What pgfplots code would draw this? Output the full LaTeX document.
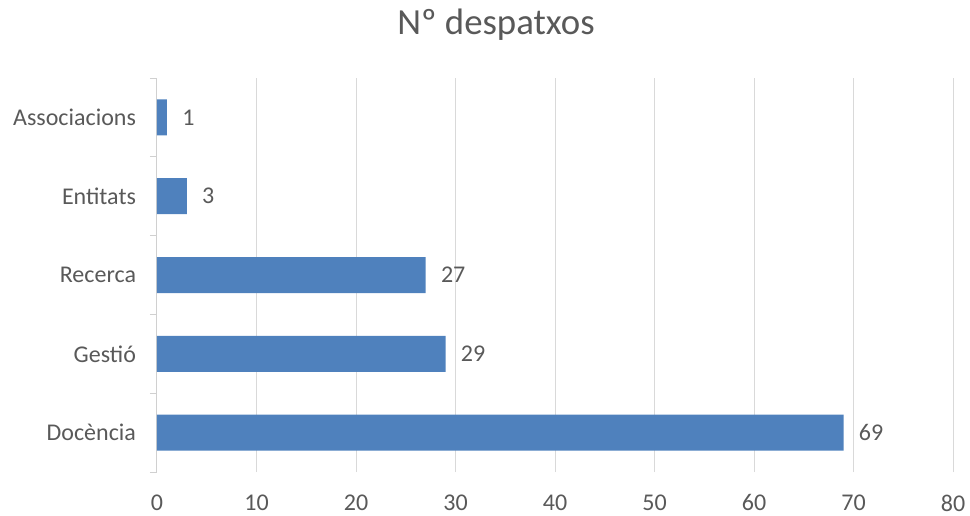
\documentclass[border=0pt]{standalone}
\usepackage{fontspec}
\setmainfont{Carlito}
\usepackage{pgfplots}
\pgfplotsset{compat=1.18}
\definecolor{barblue}{HTML}{4F81BD}
\definecolor{txt}{HTML}{595959}
\definecolor{gridc}{HTML}{D9D9D9}
\definecolor{axc}{HTML}{D0D0D0}
\begin{document}
\begin{tikzpicture}
\begin{axis}[
  scale only axis,
  width=597pt, height=295.5pt,
  xbar, bar width=27pt,
  xmin=0, xmax=80,
  ymin=-0.5, ymax=4.5,
  xtick={0,10,...,80},
  ytick={-0.5,0.5,1.5,2.5,3.5,4.5},
  y tick label as interval,
  yticklabels={Docència,Gestió,Recerca,Entitats,Associacions},
  major tick length=5.25pt,
  xmajorgrids,
  grid style={draw=gridc, line width=0.75pt},
  axis lines*=left,
  x axis line style={draw=none},
  y axis line style={draw=axc, line width=0.75pt, -},
  xtick style={draw=none},
  ytick style={draw=axc, line width=0.75pt},
  ytick align=outside,
  tick label style={font=\fontsize{18}{21}\selectfont, text=txt},
  /pgf/number format/assume math mode=true,
  yticklabel style={xshift=-7pt},
  xticklabel style={yshift=-13.5pt},
  nodes near coords,
  every node near coord/.append style={font=\fontsize{18}{21}\selectfont, text=txt, xshift=8pt},
  clip=false,
]
\addplot[fill=barblue, draw=none] coordinates {(69,0) (29,1) (27,2) (3,3) (1,4)};
\end{axis}
\node[text=txt, font=\fontsize{27.6}{32}\selectfont] at (254.25pt,335.25pt) {Nº despatxos};
\useasboundingbox (-117.75pt,-32.25pt) rectangle (609.75pt,354pt);
\end{tikzpicture}
\end{document}
